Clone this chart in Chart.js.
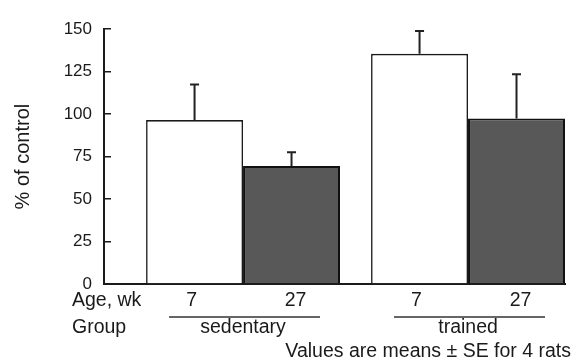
<!DOCTYPE html>
<html>
<head>
<meta charset="utf-8">
<script src="https://cdn.jsdelivr.net/npm/chart.js@4/dist/chart.umd.min.js"></script>
<style>
  html, body { margin: 0; padding: 0; background: #fff; }
  #wrap { width: 574px; height: 362px; }
</style>
</head>
<body>
<div id="wrap"><canvas id="c" width="574" height="362"></canvas></div>
<script>
// ---- data ----
const groups = ['sedentary', 'trained'];
const ageLabels = ['7', '27'];
const rowHeaders = ['Age, wk', 'Group'];
const mean7wk = [96.5, 135.5];
const se7wk = [21, 13.5];
const mean27wk = [69.5, 97.5];
const se27wk = [8, 26];
const yTickValues = [0, 25, 50, 75, 100, 125, 150];
const yTitle = '% of control';
const footnote = 'Values are means \u00B1 SE for 4 rats';

const FONT = '"Liberation Sans", Arial, Helvetica, sans-serif';
const INK = '#1a1a1a';

const toPoints = (arr) => arr.map((v, i) => ({ x: i, y: v }));
const seByDataset = [se7wk, se27wk];

const errorBars = {
  id: 'errorBars',
  afterDatasetsDraw(chart) {
    const ctx = chart.ctx;
    const ys = chart.scales.y;
    ctx.save();
    ctx.strokeStyle = '#222';
    ctx.lineWidth = 2;
    chart.data.datasets.forEach((ds, di) => {
      const meta = chart.getDatasetMeta(di);
      meta.data.forEach((bar, j) => {
        const top = ys.getPixelForValue(ds.data[j].y + seByDataset[di][j]);
        ctx.beginPath();
        ctx.moveTo(bar.x, bar.y);
        ctx.lineTo(bar.x, top);
        ctx.moveTo(bar.x - 4.5, top);
        ctx.lineTo(bar.x + 4.5, top);
        ctx.stroke();
      });
    });
    ctx.restore();
  }
};

const bottomLabels = {
  id: 'bottomLabels',
  afterDraw(chart) {
    const ctx = chart.ctx;
    const area = chart.chartArea;
    const m0 = chart.getDatasetMeta(0), m1 = chart.getDatasetMeta(1);
    const rowAge = area.bottom + 22;
    const rowLine = area.bottom + 33;
    const rowGroup = area.bottom + 49;
    ctx.save();
    ctx.fillStyle = INK;
    ctx.font = '19.5px ' + FONT;
    ctx.textBaseline = 'alphabetic';
    ctx.textAlign = 'left';
    ctx.fillText(rowHeaders[0], 72, rowAge);
    ctx.fillText(rowHeaders[1], 72, rowGroup);
    ctx.textAlign = 'center';
    groups.forEach((g, j) => {
      const b0 = m0.data[j], b1 = m1.data[j];
      ctx.fillText(ageLabels[0], b0.x - 3, rowAge);
      ctx.fillText(ageLabels[1], b1.x + 4, rowAge);
      const cx = (b0.x + b1.x) / 2;
      ctx.strokeStyle = '#333';
      ctx.lineWidth = 1.3;
      ctx.beginPath();
      ctx.moveTo(cx - 74, rowLine);
      ctx.lineTo(cx + 77, rowLine);
      ctx.stroke();
      ctx.fillText(g, cx, rowGroup);
    });
    ctx.textAlign = 'right';
    ctx.fillText(footnote, 571, area.bottom + 73);
    ctx.restore();
  }
};

new Chart(document.getElementById('c'), {
  type: 'bar',
  data: {
    datasets: [
      {
        label: ageLabels[0] + ' wk',
        data: toPoints(mean7wk),
        backgroundColor: '#ffffff',
        borderColor: '#1a1a1a',
        borderWidth: { left: 1.6, right: 1.6, top: 1.6, bottom: 0 }
      },
      {
        label: ageLabels[1] + ' wk',
        data: toPoints(mean27wk),
        backgroundColor: '#585858',
        borderColor: '#111111',
        borderWidth: { left: 2, right: 2, top: 2, bottom: 0 }
      }
    ]
  },
  options: {
    responsive: false,
    animation: false,
    events: [],
    categoryPercentage: 0.862,
    barPercentage: 1,
    layout: { padding: { left: 0, right: 9, top: 20, bottom: 78 } },
    plugins: { legend: { display: false }, tooltip: { enabled: false } },
    scales: {
      x: {
        type: 'linear',
        offset: false,
        min: -0.618,
        max: 1.431,
        afterBuildTicks(scale) { scale.ticks = groups.map((g, i) => ({ value: i })); },
        ticks: { display: false },
        grid: { display: false, drawTicks: false },
        border: { display: true, color: '#1a1a1a', width: 2 }
      },
      y: {
        min: 0,
        max: 150,
        afterBuildTicks(scale) { scale.ticks = yTickValues.map(v => ({ value: v })); },
        afterFit(scale) { scale.width = 104; },
        ticks: {
          color: INK,
          font: { family: FONT, size: 17 },
          padding: 19
        },
        grid: {
          drawOnChartArea: false,
          drawTicks: true,
          tickLength: -7,
          color: '#1a1a1a',
          lineWidth: 1.5
        },
        border: { display: true, color: '#1a1a1a', width: 2 },
        title: {
          display: true,
          text: yTitle,
          color: INK,
          font: { family: FONT, size: 20 },
          padding: { top: 11, bottom: 0 }
        }
      }
    }
  },
  plugins: [errorBars, bottomLabels]
});
</script>
</body>
</html>
